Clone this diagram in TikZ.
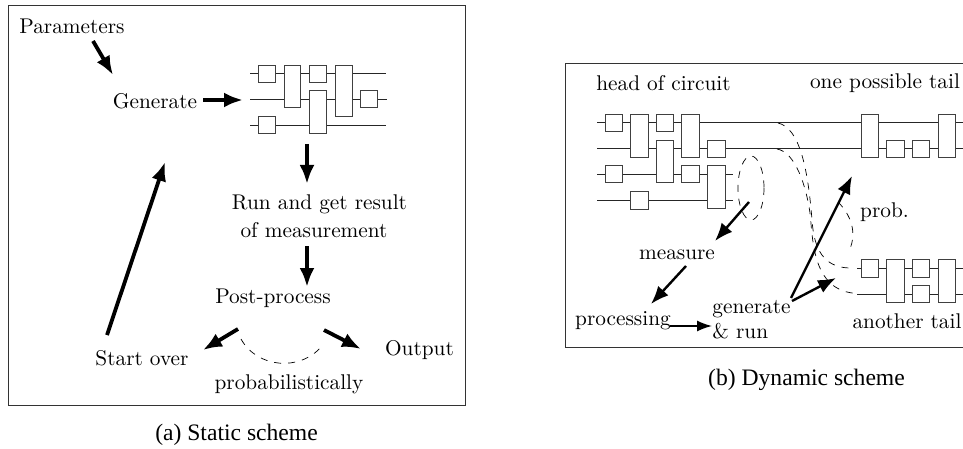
\documentclass[tikz,border=0pt]{standalone}
\usepackage{fontspec}
\usetikzlibrary{arrows.meta}
\newfontfamily\capfont{Liberation Serif}
\tikzset{
  x=1pt,y=-1pt,
  lab/.style={inner sep=0pt,scale=2.13},
  captext/.style={inner sep=0pt,font=\capfont\fontsize{23.6}{28}\selectfont},
  wire/.style={line width=1pt,draw=black!85},
  gate/.style={line width=1pt,draw=black!75,fill=white},
  fatarrow/.style={line width=3.8pt,-{Latex[length=19pt,width=15pt]}},
  midarrow/.style={line width=2.4pt,-{Latex[length=18pt,width=14pt]}},
  thinarrow/.style={line width=1.5pt,-{Latex[length=15pt,width=11pt]}},
  dashline/.style={line width=.7pt,dash pattern=on 7pt off 7pt},
  frame/.style={line width=1pt,draw=black!80},
}
\newcommand{\gbox}[4]{\draw[gate] (#1,#3) rectangle (#2,#4);}
\begin{document}
\begin{tikzpicture}
\useasboundingbox (0,0) rectangle (963,449);
\draw[frame] (8.5,6) rectangle (465,405);
% labels a
\node[lab] (params) at (72,26) {Parameters};
\node[lab] (gen) at (155,101) {Generate};
\node[lab] (run) at (319.5,204) {Run and get result};
\node[lab] (meas) at (314,230.5) {of measurement};
\node[lab] (post) at (273,298) {Post-process};
\node[lab] (start) at (142,358) {Start over};
\node[lab] (outp) at (419.5,350) {Output};
\node[lab] (prob) at (289,384) {probabilistically};
\node[captext] (capa) at (236.5,435) {(a) Static scheme};
% circuit a
\draw[wire] (250,74)--(386,74) (250,100)--(387,100) (250,125.5)--(386,125.5);
\gbox{258}{275}{65.5}{82.5}
\gbox{284}{300.5}{65.5}{108}
\gbox{309}{326}{65.5}{82.5}
\gbox{335}{352}{65.5}{117}
\gbox{309}{326}{91}{134}
\gbox{360.5}{377.5}{91}{108}
\gbox{258}{275}{117}{134}
% arrows a
\coordinate (a1) at (93,41); \coordinate (a2) at (113,75);
\coordinate (b1) at (203,100); \coordinate (b2) at (243,100);
\coordinate (c1) at (307,144); \coordinate (c2) at (307,184);
\coordinate (d1) at (107,335); \coordinate (d2) at (165,162);
\coordinate (e1) at (307,246); \coordinate (e2) at (307,287);
\coordinate (f1) at (238,329); \coordinate (f2) at (203,350);
\coordinate (g1) at (324,330); \coordinate (g2) at (361,349);
\draw[fatarrow] (a1)--(a2);
\draw[fatarrow] (b1)--(b2);
\draw[fatarrow] (c1)--(c2);
\draw[fatarrow] (d1)--(d2);
\draw[fatarrow] (e1)--(e2);
\draw[fatarrow] (f1)--(f2);
\draw[fatarrow] (g1)--(g2);
\coordinate (h1) at (241,339); \coordinate (h2) at (322,346);
\draw[dashline] (h1) .. controls (257,368) and (300,372) .. (h2);
% frame b
\draw[frame] (963,64) -- (565,64) -- (565,347) -- (963,347);
\node[lab] (head) at (663.5,83) {head of circuit};
\node[lab] (tail1) at (885,83) {one possible tail};
\node[lab] (pr) at (884.5,212) {prob.};
\node[lab] (measb) at (677,255) {measure};
\node[lab] (proc) at (623,321) {processing};
\node[lab,anchor=west] (gn) at (712,309) {generate};
\node[lab,anchor=west] (rn) at (712,331) {\&\ run};
\node[lab] (tail2) at (907,321) {another tail};
\node[captext] (capb) at (806.5,380) {(b) Dynamic scheme};
% circuit b
\draw[wire] (597,123)--(963,123) (597,149)--(963,149) (597,174.5)--(733,174.5) (597,200)--(733,200);
\gbox{605}{622.7}{114.5}{131.7}
\gbox{630.7}{648}{114.5}{157.5}
\gbox{656}{673.7}{114.5}{131.7}
\gbox{681.7}{699.3}{114.5}{157.5}
\gbox{707.3}{725}{140.3}{157.7}
\gbox{656}{673.7}{140.3}{183}
\gbox{681.7}{699.3}{166}{183}
\gbox{707.3}{725}{166}{208.3}
\gbox{605}{622.7}{166}{183}
\gbox{630.7}{648}{191.7}{209}
\gbox{861.3}{878.7}{114.5}{157.5}
\gbox{886.7}{904}{140.3}{157.7}
\gbox{912.3}{929.7}{140.3}{157.7}
\gbox{938}{955.3}{114.5}{157.5}
\draw[wire] (857,268)--(963,268) (857,294)--(963,294);
\gbox{861.3}{878.7}{259.7}{277}
\gbox{886.7}{904}{259.7}{302.3}
\gbox{912.3}{929.7}{259.7}{277}
\gbox{912.3}{929.7}{285.7}{302.3}
\gbox{938}{955.3}{259.7}{302.3}
% dashed
\draw[dashline] (751,188) ellipse [x radius=13,y radius=32];
\coordinate (p1) at (778,123); \coordinate (p2) at (849,268);
\coordinate (q1) at (777,149); \coordinate (q2) at (858,293.5);
\draw[dashline] (p1) .. controls (800,128) and (808,170) .. (812,220) .. controls (814,250) and (824,267) .. (p2);
\draw[dashline] (q1) .. controls (795,152) and (806,185) .. (810,213) .. controls (813,240) and (812,292) .. (q2);
\draw[dashline] (838,202) .. controls (850,214) and (858,232) .. (849,251);
% arrows b
\coordinate (m1) at (749,202); \coordinate (m2) at (715,241);
\coordinate (n1) at (686,266); \coordinate (n2) at (651,304);
\coordinate (o1) at (670,326); \coordinate (o2) at (712,326);
\coordinate (s1) at (791,298); \coordinate (s2) at (852,176);
\coordinate (t1) at (792,301); \coordinate (t2) at (836,278);
\draw[midarrow] (m1)--(m2);
\draw[midarrow] (n1)--(n2);
\draw[thinarrow] (o1)--(o2);
\draw[midarrow] (s1)--(s2);
\draw[midarrow] (t1)--(t2);
\end{tikzpicture}
\end{document}
